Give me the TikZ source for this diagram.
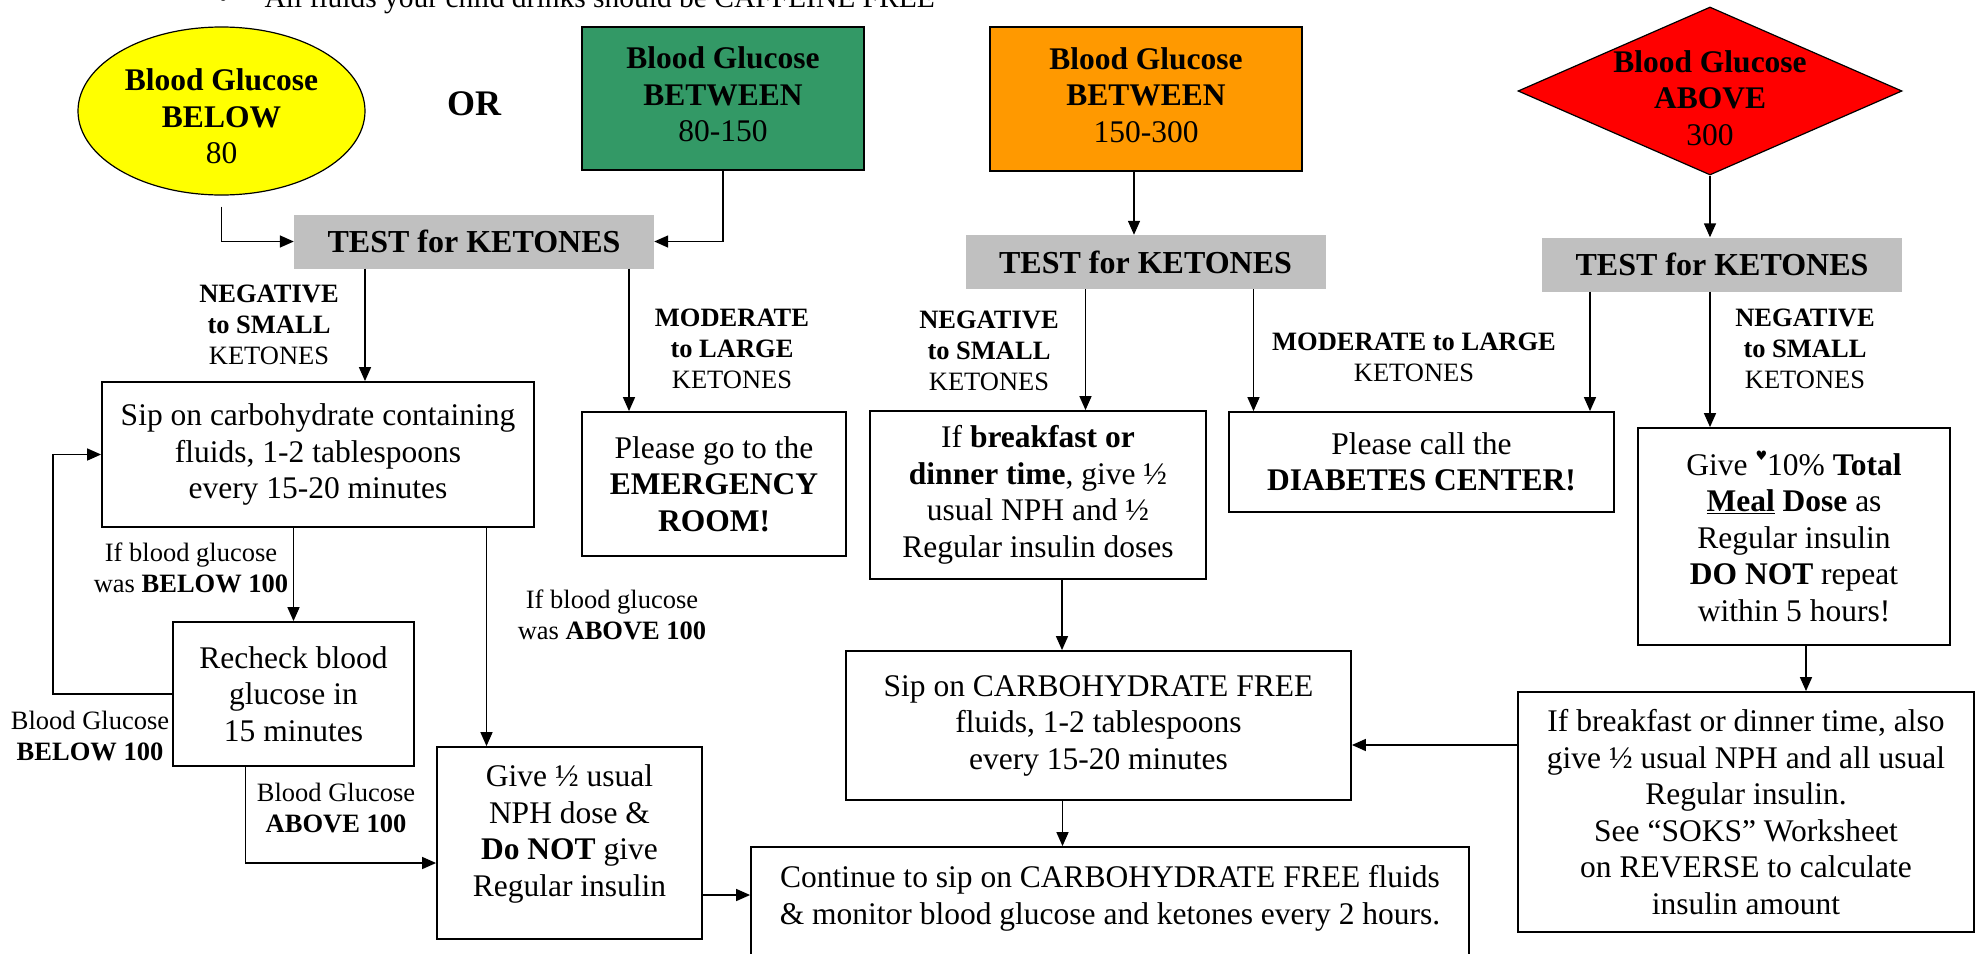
\documentclass[tikz,border=0pt]{standalone}
\usepackage{fontspec}
\setmainfont{Liberation Serif}
\newfontfamily\heartfont{DejaVu Sans}
\usepackage{tikz}
\usetikzlibrary{arrows.meta, shapes.geometric}

\definecolor{bgyellow}{RGB}{255,255,0}
\definecolor{bggreen}{RGB}{51,153,102}
\definecolor{bgorange}{RGB}{255,153,0}
\definecolor{bgred}{RGB}{255,0,0}
\definecolor{testgray}{RGB}{192,192,192}

\newcommand{\boxfont}{\fontsize{31.5}{36.5}\selectfont}
\newcommand{\lblfont}{\fontsize{26.5}{31}\selectfont}
\newcommand{\testfont}{\fontsize{32}{36}\selectfont\bfseries}

\begin{document}
\begin{tikzpicture}[x=1pt, y=-1pt, >={Triangle[length=14pt, width=12pt]},
    box/.style={draw, rectangle, line width=1.8pt, align=center, inner sep=0pt, font=\boxfont},
    testbox/.style={rectangle, fill=testgray, minimum width=360pt, minimum height=54pt, font=\testfont},
    lbl/.style={align=center, inner sep=0pt, font=\lblfont},
    conn/.style={line width=1.5pt}]
        \path[use as bounding box, fill=white] (0,0) rectangle (1983,953);
        \clip (0,0) rectangle (1983,953);

        % Nodes
        \node (note) [anchor=base west, inner sep=0pt, font=\fontsize{29.5}{34}\selectfont] at (218,7) {\textbullet\hspace{36pt}All fluids your child drinks should be CAFFEINE FREE};

        \node (bgbelow) [ellipse, draw, fill=bgyellow, line width=1.2pt, minimum width=287pt, minimum height=168pt, inner sep=0pt, align=center, font=\boxfont] at (221.5,111) {\rule{0pt}{33pt}\textbf{Blood Glucose}\\\textbf{BELOW}\\80};
        \node (ortext) [font=\fontsize{36}{40}\selectfont\bfseries] at (474,103.5) {OR};
        \node (bgnormal) [box, fill=bggreen, minimum width=282pt, minimum height=143pt] at (723,98.5) {\textbf{Blood Glucose}\\\textbf{BETWEEN}\\80-150\rule[-8pt]{0pt}{8pt}};
        \node (bghigh) [box, fill=bgorange, minimum width=312pt, minimum height=144pt] at (1146,99) {\textbf{Blood Glucose}\\\textbf{BETWEEN}\\150-300\rule[-8pt]{0pt}{8pt}};
        \node (bgabove) [diamond, draw, fill=bgred, line width=1.2pt, minimum width=384pt, minimum height=168pt, inner sep=0pt] at (1710,91) {};
        \node (abovetext) [align=center, inner sep=0pt, font=\boxfont] at (1710,98) {\textbf{Blood Glucose}\\\textbf{ABOVE}\\300};

        \node (test1) [testbox] at (474,241.5) {TEST for KETONES};
        \node (test2) [testbox] at (1145.5,262) {TEST for KETONES};
        \node (test3) [testbox] at (1722,264.5) {TEST for KETONES};

        \node (neg1) [lbl] at (269,325) {\textbf{NEGATIVE}\\\textbf{to SMALL}\\KETONES};
        \node (mod1) [lbl] at (732,349) {\textbf{MODERATE}\\\textbf{to LARGE}\\KETONES};
        \node (neg2) [lbl] at (989,351) {\textbf{NEGATIVE}\\\textbf{to SMALL}\\KETONES};
        \node (mod2) [lbl] at (1414,357) {\textbf{MODERATE to LARGE}\\KETONES};
        \node (neg3) [lbl] at (1805,349) {\textbf{NEGATIVE}\\\textbf{to SMALL}\\KETONES};

        \node (carb) [box, minimum width=432pt, minimum height=145pt] at (318,454.5) {Sip on carbohydrate containing\\fluids, 1-2 tablespoons\\every 15-20 minutes};
        \node (emerg) [box, minimum width=264pt, minimum height=144pt] at (714,484) {Please go to the\\\textbf{EMERGENCY}\\\textbf{ROOM!}};
        \node (recheck) [box, minimum width=241pt, minimum height=144pt] at (293.5,694) {Recheck blood\\glucose in\\15 minutes};
        \node (nph) [box, minimum width=265pt, minimum height=192pt] at (569.5,843) {Give ½ usual\\NPH dose \&\\\textbf{Do NOT} give\\Regular insulin\rule[-25pt]{0pt}{25pt}};

        \node (below100) [lbl] at (191,568) {If blood glucose\\was \textbf{BELOW 100}};
        \node (above100) [lbl] at (612,615) {If blood glucose\\was \textbf{ABOVE 100}};
        \node (recbelow) [lbl] at (90,736) {Blood Glucose\\\textbf{BELOW 100}};
        \node (recabove) [lbl] at (336,808) {Blood Glucose\\\textbf{ABOVE 100}};

        \node (meal) [box, minimum width=336pt, minimum height=168pt] at (1038,495) {If \textbf{breakfast or}\\\textbf{dinner time}, give ½\\usual NPH and ½\\Regular insulin doses};
        \node (diab) [box, minimum width=385pt, minimum height=100pt] at (1421.5,462) {Please call the\\\textbf{DIABETES CENTER!}};
        \node (give) [box, minimum width=312pt, minimum height=217pt] at (1794,536.5) {Give \raisebox{0.45em}{\heartfont\fontsize{13}{13}\selectfont ♥}10\% \textbf{Total}\\\textbf{\underline{Meal} Dose} as\\Regular insulin\\\textbf{DO NOT} repeat\\within 5 hours!};
        \node (carbfree) [box, minimum width=505pt, minimum height=149pt] at (1098.5,725.5) {Sip on CARBOHYDRATE FREE\\fluids, 1-2 tablespoons\\every 15-20 minutes};
        \node (also) [box, minimum width=456pt, minimum height=240pt] at (1746,812) {If breakfast or dinner time, also\\give ½ usual NPH and all usual\\Regular insulin.\\See “SOKS” Worksheet\\on REVERSE to calculate\\insulin amount};
        \node (cont) [box, minimum width=718pt, minimum height=128pt] at (1110,911) {};
        \node (conttext) [align=center, inner sep=0pt, font=\boxfont] at (1110,898.5) {Continue to sip on CARBOHYDRATE FREE fluids\\\& monitor blood glucose and ketones every 2 hours.};

        % Arrows
        \draw[conn, ->] ([yshift=-11pt]bgbelow.south) |- (test1.west);
        \draw[conn, ->] (bgnormal.south) |- (test1.east);
        \draw[conn, ->] ([xshift=-109pt]test1.south) -- ([xshift=-109pt]test1.south |- carb.north);
        \draw[conn, ->] ([xshift=155pt]test1.south) -- ([xshift=155pt]test1.south |- emerg.north);
        \draw[conn, ->] (recheck.north |- carb.south) -- (recheck.north);
        \draw[conn, ->] ([xshift=-83pt]nph.north |- carb.south) -- ([xshift=-83pt]nph.north);
        \draw[conn, ->] (recheck.west) -| ([xshift=-48pt]carb.west) -- (carb.west);
        \draw[conn, ->] ([xshift=-48pt]recheck.south) |- ([yshift=-20pt]nph.west);
        \draw[conn, ->] ([yshift=-52pt]nph.east) -- ([yshift=-52pt]nph.east -| cont.west);
        \draw[conn, ->] ([xshift=-12pt]bghigh.south) -- ([xshift=-12pt]bghigh.south |- test2.north);
        \draw[conn, ->] (bgabove.south) -- (bgabove.south |- test3.north);
        \draw[conn, ->] ([xshift=-60pt]test2.south) -- ([xshift=-60pt]test2.south |- meal.north);
        \draw[conn, ->] ([xshift=108pt]test2.south) -- ([xshift=108pt]test2.south |- diab.north);
        \draw[conn, ->] ([xshift=-132pt]test3.south) -- ([xshift=-132pt]test3.south |- diab.north);
        \draw[conn, ->] ([xshift=-12pt]test3.south) -- ([xshift=-12pt]test3.south |- give.north);
        \draw[conn, ->] ([xshift=24pt]meal.south) -- ([xshift=24pt]meal.south |- carbfree.north);
        \draw[conn, ->] ([xshift=12pt]give.south) -- ([xshift=12pt]give.south |- also.north);
        \draw[conn, ->] ([yshift=67pt]also.west) -- ([yshift=67pt]also.west -| carbfree.east);
        \draw[conn, ->] ([xshift=-36pt]carbfree.south) -- ([xshift=-36pt]carbfree.south |- cont.north);
    \end{tikzpicture}
\end{document}
